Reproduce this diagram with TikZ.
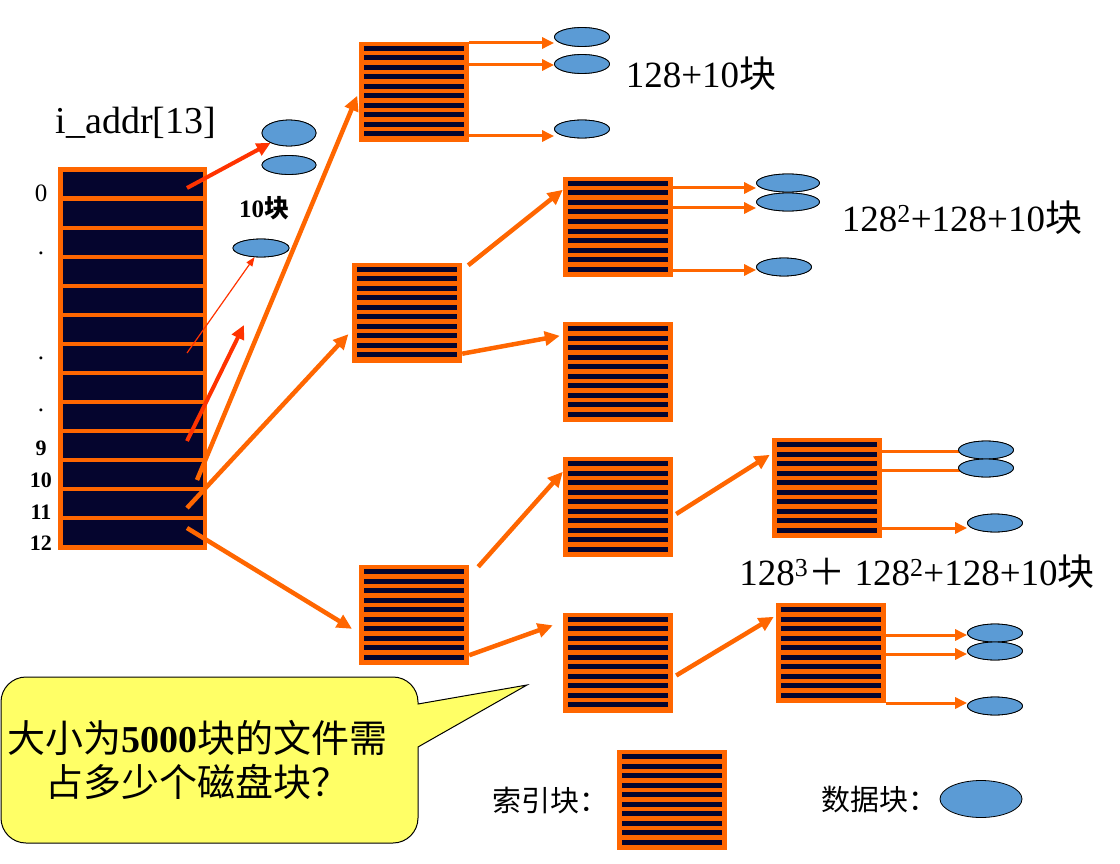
\documentclass[tikz,border=0pt]{standalone}
\usepackage{fontspec}
\setmainfont{Liberation Serif}
\newfontfamily\cjk{Noto Sans CJK SC}
\usetikzlibrary{arrows.meta,calc,shapes.geometric}
\definecolor{orng}{HTML}{FF6600}
\definecolor{rred}{HTML}{FF3300}
\definecolor{navy}{HTML}{05052E}
\definecolor{dblue}{HTML}{5B9BD5}
\definecolor{callfill}{HTML}{FFFF66}
\newcommand\fsz[1]{\fontsize{#1}{#1}\selectfont}
\newcommand\hop[3]{\path ([yshift=#3]#2.west) coordinate (#2t); \draw[oarr] (#1.east |- #2t) -- (#2t);}
\begin{document}
\begin{tikzpicture}[x=1pt,y=-1pt,
  idxblock/.style={rectangle, fill=orng, minimum width=110pt, minimum height=100pt, inner sep=0pt,
    path picture={\foreach \i in {0,...,9}{\fill[navy] ($(path picture bounding box.north west)+(5pt,{-4pt-9.5pt*\i})$) rectangle ++(100pt,-5pt);}}},
  tbl/.style={rectangle, fill=orng, minimum width=149pt, minimum height=383pt, inner sep=0pt,
    path picture={\foreach \i in {0,...,12}{\fill[navy] ($(path picture bounding box.north west)+(5pt,{-5pt-29pt*\i})$) rectangle ++(140pt,-24.5pt);}}},
  data/.style={ellipse, draw=black, line width=0.8pt, fill=dblue, inner sep=0pt, minimum width=55pt, minimum height=19pt},
  oarr/.style={orng, line width=3pt, -{Triangle[length=12pt,width=11pt]}},
  bigarr/.style={orng, line width=4.5pt, -{Triangle[length=15pt,width=14pt]}},
  rarr/.style={rred, line width=4pt, -{Triangle[length=14pt,width=13pt]}},
  thinarr/.style={rred, line width=1.2pt, -{Triangle[length=9pt,width=7pt]}},
  lbl/.style={inner sep=0pt},
  num/.style={inner sep=0pt, font=\fsz{22}\bfseries}
]
\useasboundingbox (0,0) rectangle (1120,864);

% inode address table
\node[tbl] (T) at (132.5,358.5) {};
\node[lbl, font=\fsz{25}] (n0) at (41,193) {0};
\node[lbl, font=\fsz{25}] (dA) at (41,253) {.};
\node[lbl, font=\fsz{25}] (dB) at (41,358) {.};
\node[lbl, font=\fsz{25}] (dC) at (41,410) {.};
\node[num] (n9) at (41,448) {9};
\node[num] (n10) at (41,480) {10};
\node[num] (n11) at (41,512) {11};
\node[num] (n12) at (41,543) {12};
\node[lbl, font=\fsz{38}] (iaddr) at (136,123) {i\_addr[13]};

% index blocks
\node[idxblock] (B1) at (414,92) {};
\node[idxblock] (B2) at (407,312.5) {};
\node[idxblock] (B3) at (618,227) {};
\node[idxblock] (B4) at (618,372) {};
\node[idxblock] (B5) at (414,615) {};
\node[idxblock] (B6) at (618,507) {};
\node[idxblock] (B7) at (618,662.5) {};
\node[idxblock] (B8) at (827,488) {};
\node[idxblock] (B9) at (831,653) {};
\node[idxblock] (Lg) at (672,800) {};

% data block placeholders (positions for arrows)
\path (289,133) node[data, minimum width=54pt, minimum height=26pt] (d1) {};
\path (289,165) node[data, minimum width=54pt, minimum height=19pt] (d2) {};
\path (261,248) node[data, minimum width=56pt, minimum height=18pt] (d3) {};

\path (582,37) node[data] (e11) {};
\path (582,64) node[data] (e12) {};
\path (582,129) node[data, minimum height=18pt] (e13) {};
\path (788,183) node[data, minimum width=63pt, minimum height=18pt] (e31) {};
\path (788,202) node[data, minimum width=63pt, minimum height=18pt] (e32) {};
\path (784,267) node[data, minimum height=18pt] (e33) {};
\path (986,450) node[data, minimum height=18pt] (e81) {};
\path (986,468) node[data, minimum height=18pt] (e82) {};
\path (995,523) node[data, minimum height=18pt] (e83) {};
\path (995,633) node[data, minimum height=18pt] (e91) {};
\path (995,651) node[data, minimum height=18pt] (e92) {};
\path (995,706) node[data, minimum height=18pt] (e93) {};

% arrows from the table
\coordinate (p0) at (187,188);
\coordinate (p6) at (187,353);
\coordinate (p9) at (187,441);
\coordinate (q9) at (244,325);
\coordinate (p10) at (197,480);
\coordinate (p11) at (187,508);
\coordinate (p12) at (187,528);
\draw[rarr] (p0) -- (d1);
\draw[thinarr] (p6) -- (d3);
\draw[rarr] (p9) -- (q9);
\draw[bigarr, shorten >=4pt] (p10) -- (B1.west);
\draw[bigarr, shorten >=5pt] (p11) -- ([yshift=-18pt]B2.west);
\draw[bigarr, shorten >=8pt] (p12) -- ([yshift=-18pt]B5.west);

% arrows between index blocks
\draw[bigarr] ([xshift=6pt,yshift=-3pt]B2.north east) -- ([yshift=-13pt]B3.north west);
\draw[bigarr] ([yshift=9pt]B2.south east) -- ([xshift=-3pt,yshift=-14pt]B4.north west);
\draw[bigarr] ([xshift=9pt,yshift=-2pt]B5.north east) -- ([yshift=-15pt]B6.north west);
\draw[bigarr] ([yshift=10pt]B5.south east) -- ([xshift=-10pt,yshift=-13pt]B7.north west);
\draw[bigarr] ([xshift=3pt,yshift=-7pt]B6.east) -- ([xshift=-2pt,yshift=-17pt]B8.north west);
\draw[bigarr] ([xshift=3pt,yshift=-13pt]B7.east) -- ([xshift=-2pt,yshift=-14pt]B9.north west);

% arrows from index blocks to data blocks
\hop{B1}{e11}{-6pt}
\hop{B1}{e12}{-1pt}
\hop{B1}{e13}{-7pt}
\hop{B3}{e31}{-5pt}
\hop{B3}{e32}{-6pt}
\hop{B3}{e33}{-3pt}
\path ([yshift=-1pt]e81.center) coordinate (e81t); \draw[oarr] (B8.east |- e81t) -- (e81t);
\path ([yshift=-2pt]e82.center) coordinate (e82t); \draw[oarr] (B8.east |- e82t) -- (e82t);
\hop{B8}{e83}{-5pt}
\hop{B9}{e91}{-2pt}
\hop{B9}{e92}{-3pt}
\hop{B9}{e93}{3pt}

% redraw data blocks on top of arrows
\foreach \n/\w/\h in {d1/54/26,d2/54/19,d3/56/18,e11/55/19,e12/55/19,e13/55/18,e31/63/18,e32/63/18,e33/55/18,e81/55/18,e82/55/18,e83/55/18,e91/55/18,e92/55/18,e93/55/18}
  \path (\n.center) node[data, minimum width=\w pt, minimum height=\h pt] {};

% texts
\node[lbl, font=\fsz{25}\bfseries] (t10) at (264,208) {10{\cjk 块}};
\node[lbl, font=\fsz{37}] (s1) at (701,74) {128+10{\cjk 块}};
\node[lbl, font=\fsz{37}] (s2) at (962,218) {128\textsuperscript{2}+128+10{\cjk 块}};
\node[lbl, font=\fsz{37}] (s3) at (917,572) {128\textsuperscript{3}{\cjk ＋} 128\textsuperscript{2}+128+10{\cjk 块}};

% callout
\draw[fill=callfill, line width=1pt] (26,677) -- (393,677) arc[start angle=90,end angle=0,radius=25pt]
  -- (418,704) -- (527,685) -- (418,747) -- (418,818) arc[start angle=0,end angle=-90,radius=25pt]
  -- (26,843) arc[start angle=270,end angle=180,radius=25pt] -- (1,702) arc[start angle=180,end angle=90,radius=25pt] -- cycle;
\node[lbl, font=\fsz{38}, align=center] (q) at (198,760) {{\cjk 大小为}\textbf{5000}{\cjk 块的文件需}\\[6pt]{\cjk 占多少个磁盘块？}};

% legend
\node[lbl, font=\fsz{29}\cjk] (lg1) at (550,800) {索引块：};
\node[lbl, font=\fsz{29}\cjk] (lg2) at (879,800) {数据块：};
\node[data, minimum width=82pt, minimum height=37pt] (lge) at (981,799) {};
\end{tikzpicture}
\end{document}
